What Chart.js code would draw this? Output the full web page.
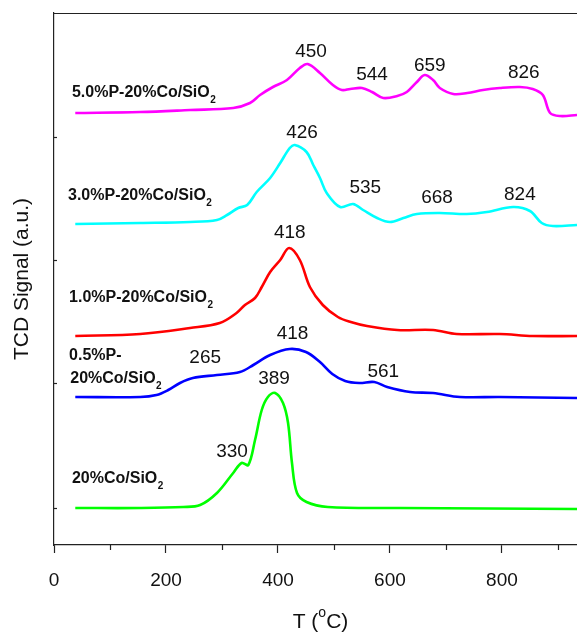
<!DOCTYPE html>
<html>
<head>
<meta charset="utf-8">
<title>TPR profiles</title>
<script src="https://cdn.jsdelivr.net/npm/chart.js@4.4.1/dist/chart.umd.min.js"></script>
<style>
  html, body { margin: 0; padding: 0; background: #fff; }
  #wrap { width: 577px; height: 635px; }
</style>
</head>
<body>
<div id="wrap"><canvas id="tprChart" width="577" height="635"></canvas></div>
<script>
// H2-TPR curves: temperature (deg C) vs TCD signal (a.u., curves stacked)
var tP50 = [38, 154, 243, 320, 350, 368, 391, 416, 439, 453, 475, 498, 514, 529, 550, 568, 588, 613, 630, 648, 662, 677, 689, 713, 738, 766, 796, 832, 855, 873, 886, 904, 934];
var sP50 = [432, 433, 435, 437, 442, 450, 458, 465, 477, 481, 472, 460, 455, 456, 457, 453, 447, 449, 453, 463, 470, 465, 457, 451, 452, 455, 457, 458, 456, 450, 432, 429, 430];

var tP30 = [38, 154, 243, 291, 309, 329, 345, 362, 386, 404, 421, 430, 451, 463, 475, 487, 511, 534, 552, 577, 600, 624, 648, 689, 737, 773, 820, 850, 871, 891, 934];
var sP30 = [321, 322, 323, 325, 330, 337, 340, 353, 367, 382, 397, 400, 393, 380, 367, 352, 338, 341, 335, 327, 323, 327, 331, 332, 331, 333, 338, 334, 322, 319, 320];

var tP10 = [38, 154, 243, 296, 326, 341, 359, 371, 386, 404, 420, 439, 457, 480, 507, 530, 559, 613, 677, 719, 796, 855, 934];
var sP10 = [209, 211, 217, 222, 232, 240, 247, 258, 273, 285, 297, 285, 258, 240, 228, 223, 219, 215, 215, 211, 211, 209, 209];

var tP05 = [38, 154, 183, 204, 225, 248, 291, 332, 356, 386, 421, 450, 475, 497, 520, 545, 572, 595, 636, 677, 725, 796, 934];
var sP05 = [148, 148, 150, 155, 162, 167, 170, 173, 180, 190, 196, 193, 183, 171, 164, 162, 163, 158, 153, 152, 148, 148, 147];

var tCo = [38, 154, 231, 261, 291, 320, 335, 347, 359, 371, 382, 395, 409, 418, 425, 434, 451, 489, 618, 934];
var sCo = [37, 37, 38, 40, 52, 72, 82, 80, 105, 135, 148, 152, 142, 122, 82, 52, 43, 38, 37, 36];

var xTicks = [0, 200, 400, 600, 800];
var xMinorTicks = [100, 300, 500, 700, 900];
var yTicks = [37, 162, 285, 408];

// peak temperatures written above the curves
var peakText = ['450', '544', '659', '826', '426', '535', '668', '824', '418', '418', '265', '389', '330', '561'];
var peakT = [459, 568, 671, 839, 443, 556, 684, 832, 421, 426, 270, 393, 318, 588];
var peakS = [488, 465, 474, 467, 407, 352, 342, 345, 307, 206, 182, 161, 88, 168];

// sample names (last char is a subscript)
var nameMain = ['5.0%P-20%Co/SiO', '3.0%P-20%Co/SiO', '1.0%P-20%Co/SiO', '0.5%P-', '20%Co/SiO', '20%Co/SiO'];
var nameSub = ['2', '2', '2', '', '2', '2'];
var nameT = [32, 25, 27, 27, 29, 32];
var nameS = [448, 345, 243, 185, 162, 62];

var FONT = 'Arial, "Liberation Sans", Helvetica, sans-serif';
Chart.defaults.font.family = FONT;

function pairs(t, s) {
    return t.map(function (v, i) { return { x: v, y: s[i] }; });
}

var overlay = {
    id: 'overlay',
    afterDraw: function (chart) {
        var ctx = chart.ctx;
        var xs = chart.scales.x;
        var ys = chart.scales.y;
        var area = chart.chartArea;
        ctx.save();
        // top frame line
        ctx.strokeStyle = '#222';
        ctx.lineWidth = 1.2;
        ctx.beginPath();
        ctx.moveTo(area.left, area.top + 0.5);
        ctx.lineTo(area.right, area.top + 0.5);
        ctx.stroke();
        // small y ticks (inward)
        yTicks.forEach(function (v) {
            var py = Math.round(ys.getPixelForValue(v)) + 0.5;
            ctx.beginPath();
            ctx.moveTo(area.left, py);
            ctx.lineTo(area.left + 3, py);
            ctx.stroke();
        });
        // minor x ticks
        xMinorTicks.forEach(function (v) {
            var px = Math.round(xs.getPixelForValue(v)) + 0.5;
            ctx.beginPath();
            ctx.moveTo(px, area.bottom);
            ctx.lineTo(px, area.bottom + 5);
            ctx.stroke();
        });

        ctx.fillStyle = '#111';
        ctx.textBaseline = 'alphabetic';
        // peak labels
        ctx.font = '19px ' + FONT;
        ctx.textAlign = 'center';
        peakText.forEach(function (txt, i) {
            ctx.fillText(txt, xs.getPixelForValue(peakT[i]), ys.getPixelForValue(peakS[i]));
        });
        // sample names
        ctx.textAlign = 'left';
        nameMain.forEach(function (txt, i) {
            var px = xs.getPixelForValue(nameT[i]);
            var py = ys.getPixelForValue(nameS[i]);
            ctx.font = 'bold 16px ' + FONT;
            ctx.fillText(txt, px, py);
            if (nameSub[i]) {
                var w = ctx.measureText(txt).width;
                ctx.font = 'bold 10px ' + FONT;
                ctx.fillText(nameSub[i], px + w + 0.5, py + 6);
            }
        });
        // x axis title with superscript
        var cx = (area.left + area.right) / 2 + 5;
        var by = 628;
        ctx.font = '21px ' + FONT;
        var a = 'T (', b = 'C)';
        var wa = ctx.measureText(a).width;
        var wb = ctx.measureText(b).width;
        ctx.font = '14px ' + FONT;
        var wo = ctx.measureText('o').width;
        var x0 = cx - (wa + wo + wb) / 2;
        ctx.font = '21px ' + FONT;
        ctx.fillText(a, x0, by);
        ctx.fillText(b, x0 + wa + wo, by);
        ctx.font = '14px ' + FONT;
        ctx.fillText('o', x0 + wa, by - 11);
        ctx.restore();
    }
};

var ctx = document.getElementById('tprChart').getContext('2d');
var tprChart = new Chart(ctx, {
    type: 'line',
    data: {
        datasets: [
            { label: '5.0%P-20%Co/SiO2', data: pairs(tP50, sP50), borderColor: '#ff00ff' },
            { label: '3.0%P-20%Co/SiO2', data: pairs(tP30, sP30), borderColor: '#00ffff' },
            { label: '1.0%P-20%Co/SiO2', data: pairs(tP10, sP10), borderColor: '#ff0000' },
            { label: '0.5%P-20%Co/SiO2', data: pairs(tP05, sP05), borderColor: '#0000ff' },
            { label: '20%Co/SiO2', data: pairs(tCo, sCo), borderColor: '#00ff00' }
        ]
    },
    options: {
        responsive: false,
        animation: false,
        layout: { padding: { top: 13, right: 0, bottom: 0, left: 0 } },
        elements: {
            point: { radius: 0 },
            line: { borderWidth: 2.6, tension: 0.35, fill: false }
        },
        plugins: {
            legend: { display: false },
            tooltip: { enabled: false }
        },
        scales: {
            x: {
                type: 'linear',
                min: 0,
                max: 934,
                afterBuildTicks: function (axis) {
                    axis.ticks = xTicks.map(function (v) { return { value: v }; });
                },
                afterFit: function (axis) { axis.height = 90; },
                grid: { drawOnChartArea: false, drawTicks: true, tickLength: 8, tickColor: '#222', tickWidth: 1.2 },
                border: { color: '#222', width: 1.2 },
                ticks: { color: '#111', font: { size: 19 }, padding: 16, maxRotation: 0 }
            },
            y: {
                type: 'linear',
                min: 0,
                max: 532,
                afterBuildTicks: function (axis) {
                    axis.ticks = yTicks.map(function (v) { return { value: v }; });
                },
                afterFit: function (axis) { axis.width = 54; },
                grid: { display: false },
                border: { color: '#222', width: 1.2 },
                ticks: { display: false },
                title: {
                    display: true,
                    text: 'TCD Signal (a.u.)',
                    color: '#111',
                    font: { size: 21 },
                    padding: { top: 10, bottom: 0 }
                }
            }
        }
    },
    plugins: [overlay]
});
</script>
</body>
</html>
